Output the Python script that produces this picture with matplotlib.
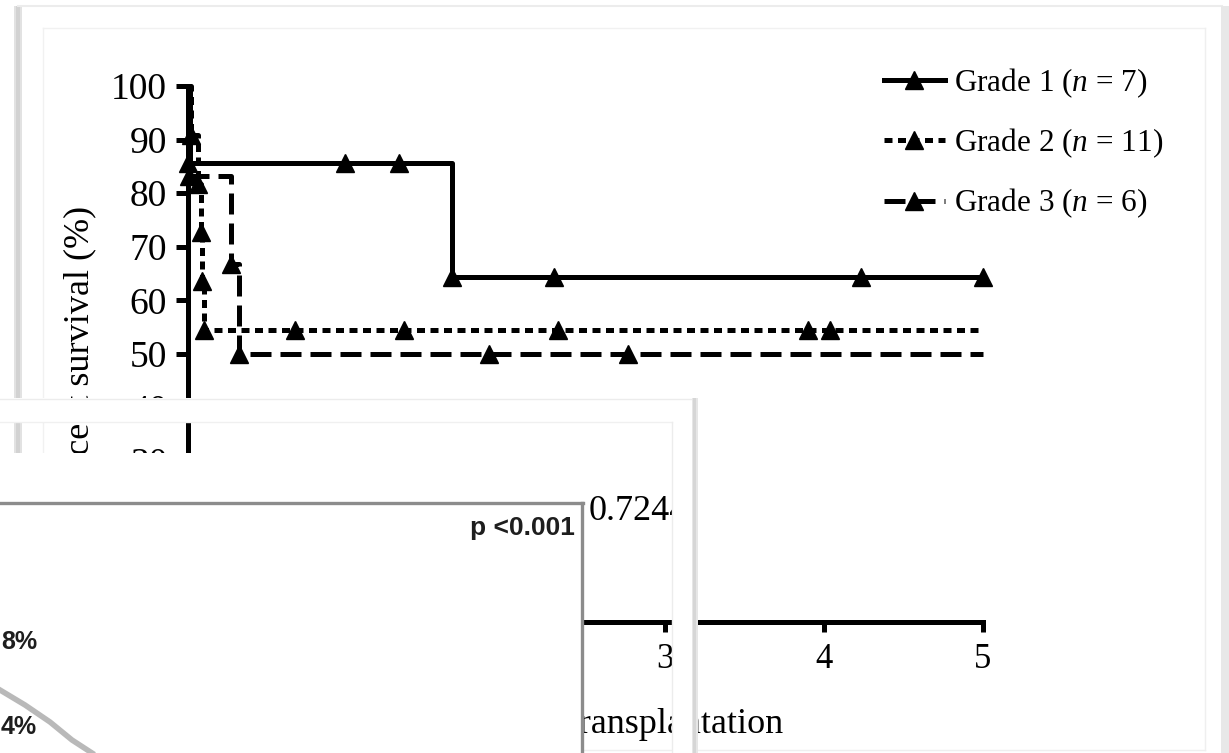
import matplotlib
matplotlib.use("Agg")
import matplotlib.pyplot as plt
from matplotlib.lines import Line2D
from matplotlib.patches import Rectangle

plt.rcParams["font.family"] = ["Liberation Serif", "DejaVu Serif"]
plt.rcParams["mathtext.fontset"] = "custom"
plt.rcParams["mathtext.rm"] = "Liberation Serif"
plt.rcParams["mathtext.it"] = "Liberation Serif:italic"

# -----------------------------------------------------------------------------
# Data (Kaplan-Meier steps)
# -----------------------------------------------------------------------------
years = [0, 1, 2, 3, 4, 5]
survival_ticks = [0, 10, 20, 30, 40, 50, 60, 70, 80, 90, 100]

g1_t = [0, 0.01, 1.66, 5.0]
g1_s = [100, 85.7, 64.3, 64.3]
g1_mark_t = [0.0, 0.99, 1.33, 1.66, 2.30, 4.23, 5.0]
g1_mark_s = [85.7, 85.7, 85.7, 64.3, 64.3, 64.3, 64.3]

g2_t = [0, 0.02, 0.06, 0.08, 0.09, 0.10, 5.0]
g2_s = [100, 90.9, 81.8, 72.7, 63.6, 54.5, 54.5]
g2_mark_t = [0.02, 0.06, 0.08, 0.09, 0.10, 0.67, 1.36, 2.33, 3.90, 4.04]
g2_mark_s = [90.9, 81.8, 72.7, 63.6, 54.5, 54.5, 54.5, 54.5, 54.5, 54.5]

g3_t = [0, 0.005, 0.27, 0.32, 5.0]
g3_s = [100, 83.3, 66.7, 50.0, 50.0]
g3_mark_t = [0.005, 0.27, 0.32, 1.89, 2.77]
g3_mark_s = [83.3, 66.7, 50.0, 50.0, 50.0]

labels = [r"Grade 1 ($n$ = 7)", r"Grade 2 ($n$ = 11)", r"Grade 3 ($n$ = 6)"]
p_text = "0.7244"

# fragment of the second (overlapping) chart, figure pixels
frag_curve_x = [0, 25, 50, 72, 92]
frag_curve_y = [690, 705, 722, 740, 753]

# -----------------------------------------------------------------------------
W, H = 1229, 753
fig = plt.figure(figsize=(W / 100, H / 100), dpi=100)


def fx(x):
    return x / W


def fy(y):
    return 1 - y / H


def rect(x0, y0, x1, y1, z, **kw):
    fig.add_artist(Rectangle((fx(x0), fy(y1)), (x1 - x0) / W, (y1 - y0) / H,
                             transform=fig.transFigure, zorder=z, lw=0, **kw))


def hline(x0, x1, y, z, **kw):
    fig.add_artist(Line2D([fx(x0), fx(x1)], [fy(y), fy(y)],
                          transform=fig.transFigure, zorder=z, **kw))


def vline(x, y0, y1, z, **kw):
    fig.add_artist(Line2D([fx(x), fx(x)], [fy(y0), fy(y1)],
                          transform=fig.transFigure, zorder=z, **kw))


# page frame of the main screenshot
rect(14, 6, 22, 753, -2, color="#e2e2e2")
rect(16, 6, 20, 753, -2, color="#d2d2d2")
hline(18, 1222, 6, -2, color="#ececec", lw=1.5)
rect(1221, 6, 1229, 753, -2, color="#e8e8e8")
hline(43, 1205, 28, -2, color="#f1f1f1", lw=1)
hline(43, 1205, 750, -2, color="#efefef", lw=1)
vline(43, 28, 750, -2, color="#f1f1f1", lw=1)
vline(1205, 28, 750, -2, color="#efefef", lw=1)

# -----------------------------------------------------------------------------
# Main Kaplan-Meier axes
# -----------------------------------------------------------------------------
ax = fig.add_axes([fx(188), fy(622), (983 - 188) / W, (622 - 86) / H])
ax.patch.set_alpha(0)
ax.set_xlim(0, 5)
ax.set_ylim(0, 100)
ax.set_xticks(years)
ax.set_yticks(survival_ticks)
for side in ("top", "right"):
    ax.spines[side].set_visible(False)
for side in ("left", "bottom"):
    ax.spines[side].set_linewidth(3.6)
ax.tick_params(axis="y", length=9, width=3.6, pad=6, labelsize=27)
ax.tick_params(axis="x", length=7, width=3.6, pad=8, labelsize=25)

lw = 3.6
styles = ["-", (0, (1.6, 1.1)), (0, (4.2, 1.8))]
series = [(g1_t, g1_s, g1_mark_t, g1_mark_s),
          (g2_t, g2_s, g2_mark_t, g2_mark_s),
          (g3_t, g3_s, g3_mark_t, g3_mark_s)]
for (t, s, mt, ms), ls in zip(series, styles):
    ax.step(t, s, where="post", color="black", lw=lw, ls=ls, clip_on=False)
    ax.plot(mt, ms, ls="none", marker="^", ms=13, color="black", clip_on=False)

handles = [Line2D([], [], color="black", lw=lw, ls=ls, marker="^", ms=13)
           for ls in styles]
fig.legend(handles, labels, loc="upper left", bbox_to_anchor=(fx(884), fy(66)),
           frameon=False, fontsize=22.5, handlelength=1.95, handletextpad=0.28,
           labelspacing=0.86, borderpad=0, borderaxespad=0, numpoints=1)

ax.set_ylabel("Percent survival (%)", fontsize=26, va="center")
ax.yaxis.set_label_coords(-0.136, 0.5)
ax.set_xlabel("Years after transplantation", fontsize=26)
ax.xaxis.set_label_coords(0.51, -0.16)
ax.text(2.52, 19.0, p_text, fontsize=26, ha="left", va="baseline")

# -----------------------------------------------------------------------------
# Overlapping screenshot pieces (drawn on top)
# -----------------------------------------------------------------------------
# panel B: white margins round a copy of the same chart
rect(0, 398, 693, 422, 5, color="white")
rect(672, 398, 693, 753, 5, color="white")
hline(0, 693, 398.5, 5, color="#ececec", lw=1)
hline(0, 672, 422, 5, color="#f0f0f0", lw=1)
vline(672, 422, 753, 5, color="#ececec", lw=1)
rect(692, 398, 698, 753, 5, color="#e6e6e6")
rect(693, 398, 696, 753, 5, color="#d6d6d6")

# panel C: cropped chart with grey frame
rect(0, 453, 584, 753, 6, color="white")
hline(0, 583, 503, 6, color="#8c8c8c", lw=2.4)
vline(582, 503, 753, 6, color="#8c8c8c", lw=2.4)
fig.add_artist(Line2D([fx(x) for x in frag_curve_x], [fy(y) for y in frag_curve_y],
                      transform=fig.transFigure, zorder=6, color="#b9b9b9", lw=4))
bold_sans = dict(fontweight="bold", family=["Liberation Sans", "DejaVu Sans"],
                 color="#1e1e1e", zorder=7)
fig.text(fx(575), fy(528), "p <0.001", ha="right", va="center", fontsize=19,
         **bold_sans)
fig.text(fx(1), fy(642), "8%", ha="left", va="center", fontsize=18, **bold_sans)
fig.text(fx(1), fy(727), "4%", ha="left", va="center", fontsize=18, **bold_sans)

fig.savefig("out.png", dpi=100, facecolor="white")
